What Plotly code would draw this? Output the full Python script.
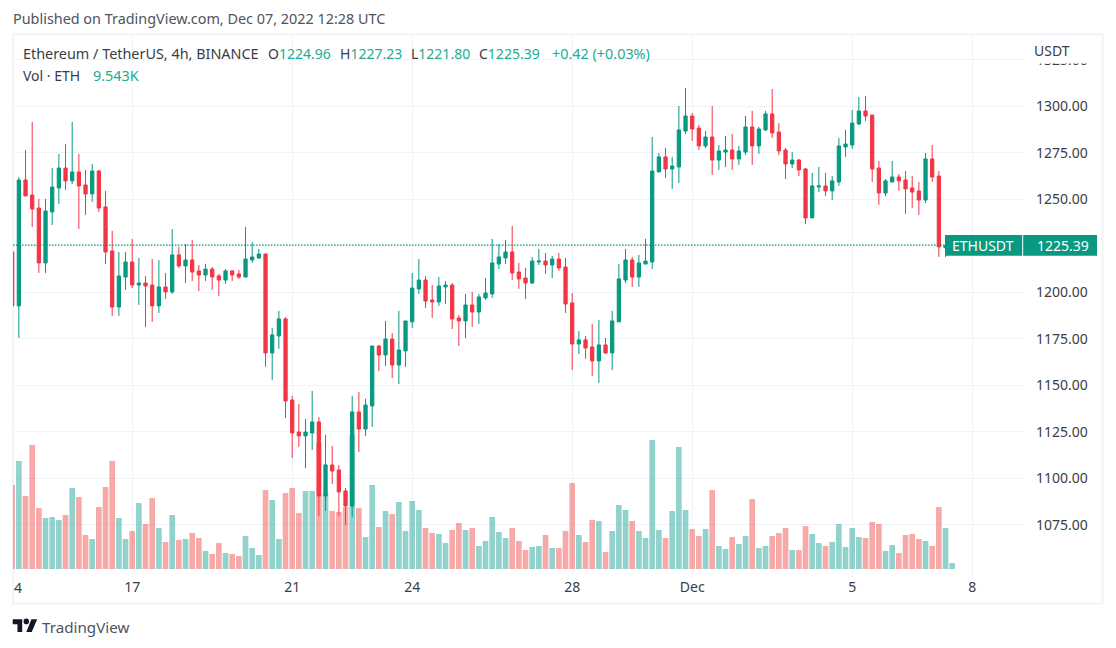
import pandas as pd
import plotly.graph_objects as go

open_ = [1221.7,1192.7,1260.4,1252.3,1245.3,1215.8,1243.2,1256.1,1266.8,1259.9,
1264.7,1257.7,1252.9,1265.2,1245.9,1222.2,1192.1,1208.2,1216.3,1203.9,
1205.0,1203.9,1192.7,1202.9,1200.2,1220.1,1214.2,1217.4,1211.5,1209.3,
1212.5,1208.8,1206.6,1211.5,1209.9,1208.2,1217.4,1218.5,1220.6,1167.4,
1176.5,1185.7,1142.1,1124.9,1122.8,1124.4,1130.3,1090.5,1107.2,1104.5,
1093.2,1085.1,1135.7,1126.5,1138.9,1171.1,1166.3,1174.9,1160.9,1168.5,
1184.1,1201.8,1206.6,1195.9,1194.8,1202.9,1203.9,1186.2,1184.6,1193.2,
1189.4,1197.0,1199.1,1215.2,1218.5,1221.7,1210.9,1207.7,1205.0,1216.3,
1216.8,1214.7,1217.9,1213.6,1194.3,1172.2,1174.4,1170.6,1163.1,1171.7,
1167.4,1184.1,1206.6,1217.4,1208.2,1215.2,1216.3,1264.7,1272.8,1266.3,
1267.4,1286.7,1294.8,1288.3,1278.7,1283.5,1271.1,1275.4,1276.5,1271.7,
1275.4,1288.9,1278.7,1287.3,1295.9,1286.2,1276.5,1269.0,1271.1,1266.3,
1240.0,1256.6,1257.2,1254.5,1259.3,1278.1,1279.2,1290.5,1297.5,1295.3,
1266.8,1253.4,1259.3,1262.0,1260.4,1256.1,1254.5,1249.6,1271.7,1262.5,
1224.0,1224.96]
high = [1223.0,1262.0,1276.5,1291.6,1250.2,1250.2,1266.8,1274.4,1279.7,1291.6,
1274.4,1265.8,1269.0,1265.8,1254.5,1233.0,1221.7,1221.7,1228.7,1218.5,
1208.8,1217.9,1217.4,1210.4,1234.0,1224.4,1226.0,1228.1,1214.7,1215.2,
1213.6,1209.9,1212.5,1212.0,1212.0,1235.1,1227.1,1223.3,1220.6,1180.8,
1190.0,1186.7,1144.3,1140.0,1131.9,1147.0,1133.0,1123.3,1117.4,1107.2,
1094.8,1144.3,1146.4,1142.7,1171.1,1171.7,1184.6,1178.1,1190.0,1184.6,
1210.4,1217.9,1208.8,1203.9,1208.2,1206.1,1205.0,1187.8,1199.1,1200.2,
1199.1,1207.7,1228.7,1226.0,1228.1,1235.7,1215.8,1213.1,1219.0,1223.3,
1221.1,1219.5,1221.1,1218.5,1199.6,1179.2,1176.5,1183.0,1185.1,1175.4,
1190.0,1215.2,1223.3,1219.0,1220.1,1228.7,1283.5,1274.9,1277.6,1272.8,
1300.2,1309.8,1296.4,1290.0,1286.7,1300.2,1279.2,1284.0,1285.1,1278.7,
1294.8,1297.5,1288.9,1297.5,1309.3,1291.0,1277.6,1275.4,1271.7,1266.8,
1264.2,1267.4,1264.2,1262.5,1283.0,1287.3,1298.0,1305.0,1305.5,1295.3,
1270.6,1260.9,1270.6,1263.6,1265.2,1262.5,1259.3,1274.9,1279.2,1265.2,
1226.0,1227.23]
low = [1191.0,1175.5,1251.8,1235.1,1210.4,1210.4,1236.2,1247.5,1255.0,1258.2,
1234.0,1241.6,1248.6,1243.2,1215.2,1187.3,1187.3,1201.3,1202.3,1193.2,
1181.4,1184.1,1188.9,1196.4,1199.1,1213.1,1205.0,1206.1,1200.7,1206.1,
1201.3,1198.0,1204.5,1206.1,1207.2,1208.2,1215.8,1217.9,1159.9,1152.9,
1169.5,1132.4,1110.9,1116.9,1105.6,1115.2,1079.8,1082.4,1097.0,1079.8,
1074.9,1079.2,1114.2,1122.8,1127.6,1157.7,1160.4,1153.9,1150.7,1159.9,
1180.8,1199.1,1191.6,1186.2,1192.7,1193.7,1180.3,1171.1,1175.4,1181.4,
1183.0,1195.9,1197.0,1212.5,1215.2,1206.6,1201.8,1196.4,1204.5,1214.7,
1209.9,1207.7,1211.5,1188.9,1158.2,1166.8,1164.2,1155.0,1151.3,1166.8,
1158.2,1184.1,1205.0,1202.9,1202.9,1215.2,1212.5,1264.7,1261.5,1255.6,
1258.8,1285.1,1281.4,1276.5,1277.6,1263.1,1265.8,1267.4,1265.8,1268.5,
1273.8,1268.5,1274.4,1286.7,1283.0,1273.8,1260.9,1266.8,1262.5,1236.7,
1240.0,1253.9,1251.8,1249.6,1257.2,1272.8,1277.1,1290.0,1292.1,1259.3,
1247.0,1251.8,1259.3,1254.5,1242.1,1245.3,1241.6,1248.0,1259.3,1219.0,
1219.0,1221.8]
close = [1192.7,1260.4,1251.8,1244.8,1215.8,1243.7,1256.6,1266.8,1259.9,1264.7,
1257.2,1252.9,1265.2,1245.3,1221.7,1192.1,1208.8,1216.3,1203.9,1205.0,
1203.4,1192.7,1202.9,1200.2,1220.1,1214.2,1217.4,1210.9,1209.3,1212.5,
1208.2,1206.6,1211.5,1209.3,1208.2,1217.9,1219.0,1220.6,1167.4,1177.1,
1185.7,1141.6,1124.4,1122.8,1124.9,1130.3,1090.5,1107.2,1103.9,1092.7,
1085.1,1135.7,1126.5,1139.4,1171.1,1166.3,1174.9,1160.9,1169.0,1184.6,
1202.3,1206.6,1195.3,1194.8,1203.4,1203.9,1185.7,1184.6,1193.2,1189.4,
1197.5,1199.6,1215.8,1219.0,1221.7,1210.4,1207.2,1205.0,1216.8,1216.8,
1214.7,1217.9,1213.1,1193.7,1172.2,1174.4,1170.1,1163.1,1171.7,1167.4,
1184.6,1207.2,1217.4,1208.2,1215.8,1216.8,1265.2,1272.8,1266.3,1267.9,
1287.3,1294.8,1287.8,1278.7,1283.5,1271.1,1276.0,1276.5,1271.7,1276.0,
1288.9,1278.7,1287.8,1295.9,1285.7,1276.0,1269.0,1271.1,1265.8,1240.0,
1257.2,1257.2,1254.5,1259.9,1278.7,1279.7,1291.0,1297.5,1294.8,1266.3,
1253.4,1259.9,1262.0,1259.9,1255.6,1253.9,1249.6,1271.7,1262.0,1224.4,
1224.96,1225.39]
volume_k = [133.6,171.7,116.1,197.2,97.0,81.1,82.7,77.9,85.9,128.8,
114.5,54.1,47.7,98.6,130.4,171.7,81.1,47.7,60.4,104.9,
71.6,112.9,65.2,42.9,85.9,46.1,47.7,57.2,49.3,28.6,
23.9,41.3,25.4,23.9,20.7,52.5,33.4,22.3,125.6,109.7,
47.7,120.8,128.8,89.0,124.0,124.0,200.3,120.8,92.2,90.6,
98.6,213.1,97.0,50.9,133.6,66.8,92.2,87.5,106.5,60.4,
108.1,93.8,65.2,57.2,55.7,41.3,62.0,73.1,62.0,65.2,
36.6,44.5,82.7,58.8,49.3,65.2,44.5,30.2,35.0,36.6,
54.1,33.4,33.4,60.4,136.7,54.1,42.9,77.9,76.3,27.0,
60.4,101.8,93.8,76.3,60.4,49.3,205.1,62.0,49.3,92.2,
194.0,93.8,63.6,52.5,63.6,125.6,36.6,31.8,50.9,39.8,
52.5,111.3,33.4,36.6,52.5,57.2,65.2,30.2,30.2,68.4,
55.7,41.3,36.6,42.9,71.6,35.0,65.2,50.9,49.3,74.7,
71.6,28.6,38.2,25.4,54.1,55.7,47.7,44.5,36.6,98.6,
65.2,9.543]

time_ticks = ["2022-11-17", "2022-11-21", "2022-11-24", "2022-11-28", "2022-12-01", "2022-12-05", "2022-12-08"]
time_labels = ["17", "21", "24", "28", "Dec", "5", "8"]
price_ticks = [1075, 1100, 1125, 1150, 1175, 1200, 1225, 1250, 1275, 1300, 1325]
last_price = 1225.39

UP, DOWN = "#089981", "#F23645"
UP_VOL, DOWN_VOL = "rgba(38,166,154,0.5)", "rgba(239,83,80,0.5)"
GRID, FRAME = "#F0F3FA", "#F0F3FA"
TEXT = "#3a3d46"
TEXT2 = "#50535e"
VALUE = "#22ab94"
FONT = "Noto Sans"

W, H = 1116, 648
L, R, T, B = 13, 1023, 35, 577
BAR_PX = 20 / 3

t0 = pd.Timestamp("2022-11-14")
times = [t0 + pd.Timedelta(hours=4 * i) for i in range(len(close))]
def t_at_px(px):
    return t0 + pd.Timedelta(hours=4 * (px - 12.2) / BAR_PX)

def xp(px):
    return (px - L) / (R - L)
def yp(py):
    return (B - py) / (B - T)

PRICE_PX = 1.86
def price_at(py):
    return 1200 + (292.3 - py) / PRICE_PX
VOL_K_PER_PX = 1.59
def vol_at(py):
    return (569 - py) * VOL_K_PER_PX

fig = go.Figure()
fig.add_trace(go.Bar(
    x=times, y=volume_k, yaxis="y",
    marker=dict(color=[UP_VOL if c >= o else DOWN_VOL for o, c in zip(open_, close)], line_width=0),
    hoverinfo="skip", showlegend=False,
))
# last price line, as a dotted trace under the candles
fig.add_trace(go.Scatter(
    x=[t_at_px(L), t_at_px(945)], y=[last_price, last_price], yaxis="y2", mode="lines",
    line=dict(color=UP, width=1.3, dash="1.5px,1.5px"), hoverinfo="skip", showlegend=False,
))
fig.add_trace(go.Candlestick(
    x=times, open=open_, high=high, low=low, close=close, yaxis="y2",
    increasing=dict(line=dict(color=UP, width=1), fillcolor=UP),
    decreasing=dict(line=dict(color=DOWN, width=1), fillcolor=DOWN),
    whiskerwidth=0, showlegend=False,
))

shapes = []
# outer frame
shapes.append(dict(type="rect", xref="paper", yref="paper", x0=xp(13.2), x1=xp(1102.6), y0=yp(34.3), y1=yp(603.5),
                   line=dict(color=FRAME, width=2), layer="below"))
# mask for the clipped top axis label
shapes.append(dict(type="rect", xref="paper", yref="paper", x0=xp(1024), x1=xp(1101), y0=yp(36), y1=yp(63.5),
                   fillcolor="white", line_width=0, layer="above"))
# last price tag
shapes.append(dict(type="rect", xref="paper", yref="y2", x0=xp(945), x1=xp(1097),
                   y0=price_at(255.8), y1=price_at(235), fillcolor=UP, line_width=0, layer="above"))
shapes.append(dict(type="line", xref="paper", yref="y2", x0=xp(1022.7), x1=xp(1022.7),
                   y0=price_at(255.8), y1=price_at(235), line=dict(color="white", width=1), layer="above"))

# TradingView logo
def lx(u):
    return xp(12.7 + u * 0.68)
def ly(v):
    return yp(619.3 + (v - 4) * 0.7)
def logo_path(pts):
    return "M" + " L".join(f"{lx(a):.5f},{ly(b):.5f}" for a, b in pts) + " Z"
for pts in ([(0, 4), (14, 4), (14, 22), (7, 22), (7, 11), (0, 11)],
            [(27.5, 4), (36, 4), (28, 22), (20, 22)]):
    shapes.append(dict(type="path", xref="paper", yref="paper", path=logo_path(pts),
                       fillcolor="#131722", line_width=0, layer="above"))
shapes.append(dict(type="circle", xref="paper", yref="paper", x0=lx(16), x1=lx(24), y0=ly(3), y1=ly(11),
                   fillcolor="#131722", line_width=0, layer="above"))

def note(x, y, text, color=TEXT, size=14, anchor="left"):
    return dict(xref="paper", yref="paper", x=xp(x), y=yp(y), text=text, showarrow=False,
                xanchor=anchor, yanchor="middle", font=dict(family=FONT, size=size, color=color),
                borderpad=0, borderwidth=0)

def pair(letter, value):
    return f'<span style="color:{TEXT}">{letter}</span><span style="color:{VALUE}">{value}</span>'

annotations = [
    note(13, 19, "Published on TradingView.com, Dec 07, 2022 12:28 UTC", TEXT2, 14.4),
    note(23, 53, "Ethereum / TetherUS, 4h, BINANCE", TEXT, 14.4),
    note(268, 53, pair("O", "1224.96")),
    note(340, 53, pair("H", "1227.23")),
    note(411, 53, pair("L", "1221.80")),
    note(479, 53, pair("C", "1225.39")),
    note(552, 53, "+0.42 (+0.03%)", VALUE, 14.4),
    note(23, 75, "Vol · ETH", TEXT),
    note(93, 75, "9.543K", VALUE, 14.4),
    note(1034, 50.5, "USDT", TEXT),
    note(14, 587, "4", TEXT),
    note(983, 245.3, "ETHUSDT", "white", anchor="center"),
    note(1037, 245.3, f"{last_price:.2f}", "white"),
    note(42, 627, "TradingView", TEXT2, 15.2),
]

fig.update_layout(
    width=W, height=H, autosize=False,
    margin=dict(l=L, r=W - R, t=T, b=H - B, pad=0),
    paper_bgcolor="white", plot_bgcolor="rgba(0,0,0,0)",
    font=dict(family=FONT, size=14, color=TEXT),
    showlegend=False, bargap=0.15, boxgap=0.3, hovermode=False,
    xaxis=dict(type="date", range=[t_at_px(L), t_at_px(R)], rangeslider=dict(visible=False),
               tickmode="array", tickvals=time_ticks, ticktext=time_labels,
               showgrid=True, gridcolor=GRID, gridwidth=1, zeroline=False, showline=False,
               ticks="", tickfont=dict(family=FONT, size=14, color=TEXT), automargin=False),
    yaxis=dict(domain=[0, 1], range=[vol_at(B), vol_at(T)], visible=False, fixedrange=True),
    yaxis2=dict(overlaying="y", side="right", range=[price_at(B), price_at(T)],
                tickmode="array", tickvals=price_ticks, ticktext=[f"{v:.2f}" for v in price_ticks],
                showgrid=True, gridcolor=GRID, gridwidth=1, zeroline=False, showline=False,
                ticks="", ticklabelstandoff=12, tickfont=dict(family=FONT, size=14, color=TEXT), automargin=False),
    shapes=shapes, annotations=annotations,
)

fig.write_html("out.html", config=dict(displayModeBar=False, responsive=False),
               post_script="document.body.style.margin='0';document.body.style.overflow='hidden';")
